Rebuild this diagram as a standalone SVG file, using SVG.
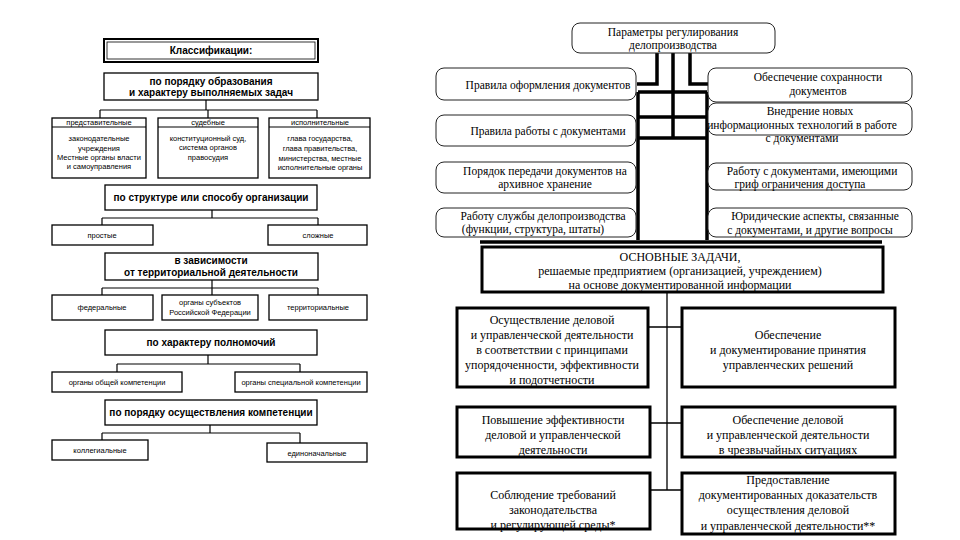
<svg xmlns="http://www.w3.org/2000/svg" width="960" height="540" viewBox="0 0 960 540">
<style>
.bg{fill:#fff}
.lb{fill:#fff;stroke:#000;stroke-width:1.3}
.lt{font-family:"Liberation Sans",Arial,sans-serif;font-size:10px;font-weight:bold;text-anchor:middle;fill:#000}
.ls{font-family:"Liberation Sans",Arial,sans-serif;font-size:7.5px;text-anchor:middle;fill:#000}
.lc{fill:none;stroke:#000;stroke-width:1.2}
.rb{fill:#fff;stroke:#222;stroke-width:1}
.rt{font-family:"Liberation Serif","Times New Roman",serif;font-size:11.5px;text-anchor:middle;fill:#000}
.tb{fill:#fff;stroke:#000;stroke-width:3}
.tt{font-family:"Liberation Serif","Times New Roman",serif;font-size:12px;text-anchor:middle;fill:#000}
.thick{fill:none;stroke:#000;stroke-width:3.5}
.thin{fill:none;stroke:#000;stroke-width:1.3}
</style>
<rect class="bg" x="0" y="0" width="960" height="540"/>

<g id="connectors">
  <!-- left panel -->
  <path class="lc" d="M206,100 V110 M100,110 H317 M100,110 V118 M208,110 V118 M317,110 V118"/>
  <path class="lc" d="M212,210 V218 M102,218 H318 M102,218 V225 M318,218 V225"/>
  <path class="lc" d="M212,280 V288 M102,288 H318 M102,288 V295 M212,288 V295 M318,288 V295"/>
  <path class="lc" d="M208,355 V364 M117,364 H300 M117,364 V372 M300,364 V372"/>
  <path class="lc" d="M210,425 V433 M102,433 H300 M102,433 V440 M300,433 V443"/>
  <!-- right top thick grid -->
  <path class="thick" d="M657,53 V84 H637 M690,53 V84 H708 M673,53 V138"/>
  <path class="thick" d="M638,92 V240 M707,92 V240 M638,92 H707 M638,117 H707 M638,138 H707"/>
  <path class="thick" d="M480,242 H882"/>
  <!-- right bottom -->
  <path class="thin" d="M667,292 V490 M648,327 H682 M650,423 H682 M650,490 H682"/>
</g>

<g id="n-klass">
  <rect x="104" y="39" width="214" height="23" fill="#fff" stroke="#000" stroke-width="2"/>
  <rect x="107" y="42" width="208" height="17" fill="none" stroke="#000" stroke-width="0.8"/>
  <text class="lt" x="211" y="54">Классификации:</text>
</g>
<g id="n-order">
  <rect class="lb" x="104" y="73" width="214" height="27"/>
  <text class="lt" x="211" y="85">по порядку образования</text>
  <text class="lt" x="211" y="96">и характеру выполняемых задач</text>
</g>
<g id="n-repr">
  <rect class="lb" x="52" y="118" width="94" height="60"/>
  <line class="lc" x1="52" y1="127" x2="146" y2="127"/>
  <text class="ls" x="99" y="125">представительные</text>
  <text class="ls" x="99" y="141">законодательные</text>
  <text class="ls" x="99" y="151">учреждения</text>
  <text class="ls" x="99" y="160">Местные органы власти</text>
  <text class="ls" x="99" y="169">и самоуправления</text>
</g>
<g id="n-jud">
  <rect class="lb" x="158" y="118" width="100" height="60"/>
  <line class="lc" x1="158" y1="127" x2="258" y2="127"/>
  <text class="ls" x="208" y="125">судебные</text>
  <text class="ls" x="208" y="141">конституционный суд,</text>
  <text class="ls" x="208" y="150">система органов</text>
  <text class="ls" x="208" y="160">правосудия</text>
</g>
<g id="n-exec">
  <rect class="lb" x="269" y="118" width="101" height="60"/>
  <line class="lc" x1="269" y1="127" x2="370" y2="127"/>
  <text class="ls" x="320" y="125">исполнительные</text>
  <text class="ls" x="320" y="141">глава государства,</text>
  <text class="ls" x="320" y="151">глава правительства,</text>
  <text class="ls" x="320" y="161">министерства, местные</text>
  <text class="ls" x="320" y="170">исполнительные органы</text>
</g>
<g id="n-struct">
  <rect class="lb" x="105" y="185" width="212" height="25"/>
  <text class="lt" x="211" y="201">по структуре или способу организации</text>
</g>
<g id="n-simple">
  <rect class="lb" x="52" y="225" width="101" height="20"/>
  <text class="ls" x="102" y="238">простые</text>
</g>
<g id="n-complex">
  <rect class="lb" x="268" y="225" width="99" height="20"/>
  <text class="ls" x="318" y="238">сложные</text>
</g>
<g id="n-terr">
  <rect class="lb" x="105" y="253" width="213" height="27"/>
  <text class="lt" x="211" y="264">в зависимости</text>
  <text class="lt" x="211" y="276">от территориальной деятельности</text>
</g>
<g id="n-fed">
  <rect class="lb" x="52" y="295" width="101" height="25"/>
  <text class="ls" x="102" y="310">федеральные</text>
</g>
<g id="n-subj">
  <rect class="lb" x="162" y="295" width="96" height="25"/>
  <text class="ls" x="210" y="305">органы субъектов</text>
  <text class="ls" x="210" y="315">Российской Федерации</text>
</g>
<g id="n-territ">
  <rect class="lb" x="269" y="295" width="98" height="25"/>
  <text class="ls" x="318" y="310">территориальные</text>
</g>
<g id="n-power">
  <rect class="lb" x="105" y="330" width="212" height="25"/>
  <text class="lt" x="211" y="346">по характеру полномочий</text>
</g>
<g id="n-general">
  <rect class="lb" x="52" y="372" width="130" height="20"/>
  <text class="ls" x="117" y="385">органы общей компетенции</text>
</g>
<g id="n-special">
  <rect class="lb" x="235" y="372" width="132" height="20"/>
  <text class="ls" x="301" y="385">органы специальной компетенции</text>
</g>
<g id="n-compet">
  <rect class="lb" x="105" y="400" width="212" height="25"/>
  <text class="lt" x="211" y="416">по порядку осуществления компетенции</text>
</g>
<g id="n-coll">
  <rect class="lb" x="52" y="440" width="96" height="20"/>
  <text class="ls" x="100" y="453">коллегиальные</text>
</g>
<g id="n-single">
  <rect class="lb" x="267" y="443" width="100" height="19"/>
  <text class="ls" x="317" y="456">единоначальные</text>
</g>

<!-- right top -->
<g id="n-params">
  <rect class="rb" x="572" y="23" width="203" height="30" rx="8"/>
  <text class="rt" x="673" y="36">Параметры регулирования</text>
  <text class="rt" x="673" y="49">делопроизводства</text>
</g>
<g id="n-l1">
  <rect class="rb" x="436" y="68" width="200" height="32" rx="8"/>
  <text class="rt" x="548" y="89">Правила оформления документов</text>
</g>
<g id="n-l2">
  <rect class="rb" x="436" y="115" width="200" height="31" rx="8"/>
  <text class="rt" x="548" y="135">Правила работы с документами</text>
</g>
<g id="n-l3">
  <rect class="rb" x="436" y="162" width="200" height="31" rx="8"/>
  <text class="rt" x="545" y="175">Порядок передачи документов на</text>
  <text class="rt" x="545" y="188">архивное хранение</text>
</g>
<g id="n-l4">
  <rect class="rb" x="436" y="208" width="200" height="29" rx="8"/>
  <text class="rt" x="543" y="220">Работу службы делопроизводства</text>
  <text class="rt" x="533" y="233">(функции, структура, штаты)</text>
</g>
<g id="n-r1">
  <rect class="rb" x="708" y="68" width="204" height="34" rx="8"/>
  <text class="rt" x="818" y="81">Обеспечение сохранности</text>
  <text class="rt" x="818" y="95">документов</text>
</g>
<g id="n-r2">
  <rect class="rb" x="708" y="103" width="204" height="32" rx="8"/>
  <text class="rt" x="810" y="115">Внедрение новых</text>
  <text class="rt" x="802" y="129">информационных технологий в работе</text>
  <text class="rt" x="802" y="142">с документами</text>
</g>
<g id="n-r3">
  <rect class="rb" x="708" y="163" width="204" height="27" rx="8"/>
  <text class="rt" x="812" y="175">Работу с документами, имеющими</text>
  <text class="rt" x="800" y="188">гриф ограничения доступа</text>
</g>
<g id="n-r4">
  <rect class="rb" x="708" y="208" width="204" height="29" rx="8"/>
  <text class="rt" x="815" y="220">Юридические аспекты, связанные</text>
  <text class="rt" x="810" y="234">с документами, и другие вопросы</text>
</g>

<!-- right bottom -->
<g id="n-main">
  <rect class="tb" x="482" y="247" width="401" height="45"/>
  <text class="tt" x="680" y="261">ОСНОВНЫЕ ЗАДАЧИ,</text>
  <text class="tt" x="680" y="275">решаемые предприятием (организацией, учреждением)</text>
  <text class="tt" x="680" y="289">на основе документированной информации</text>
</g>
<g id="n-t1">
  <rect class="tb" x="457" y="308" width="191" height="79"/>
  <text class="tt" x="552" y="324">Осуществление деловой</text>
  <text class="tt" x="552" y="339">и управленческой деятельности</text>
  <text class="tt" x="552" y="354">в соответствии с принципами</text>
  <text class="tt" x="552" y="369">упорядоченности, эффективности</text>
  <text class="tt" x="552" y="384">и подотчетности</text>
</g>
<g id="n-t2">
  <rect class="tb" x="682" y="308" width="213" height="79"/>
  <text class="tt" x="788" y="339">Обеспечение</text>
  <text class="tt" x="788" y="354">и документирование принятия</text>
  <text class="tt" x="788" y="369">управленческих решений</text>
</g>
<g id="n-t3">
  <rect class="tb" x="457" y="407" width="193" height="50"/>
  <text class="tt" x="553" y="424">Повышение эффективности</text>
  <text class="tt" x="553" y="439">деловой и управленческой</text>
  <text class="tt" x="553" y="454">деятельности</text>
</g>
<g id="n-t4">
  <rect class="tb" x="682" y="407" width="213" height="50"/>
  <text class="tt" x="788" y="424">Обеспечение деловой</text>
  <text class="tt" x="788" y="439">и управленческой деятельности</text>
  <text class="tt" x="788" y="454">в чрезвычайных ситуациях</text>
</g>
<g id="n-t5">
  <rect class="tb" x="457" y="473" width="193" height="56"/>
  <text class="tt" x="553" y="499">Соблюдение требований</text>
  <text class="tt" x="553" y="514">законодательства</text>
  <text class="tt" x="553" y="529">и регулирующей среды*</text>
</g>
<g id="n-t6">
  <rect class="tb" x="682" y="473" width="213" height="61"/>
  <text class="tt" x="788" y="484">Предоставление</text>
  <text class="tt" x="788" y="499">документированных доказательств</text>
  <text class="tt" x="788" y="514">осуществления деловой</text>
  <text class="tt" x="788" y="530">и управленческой деятельности**</text>
</g>
</svg>
